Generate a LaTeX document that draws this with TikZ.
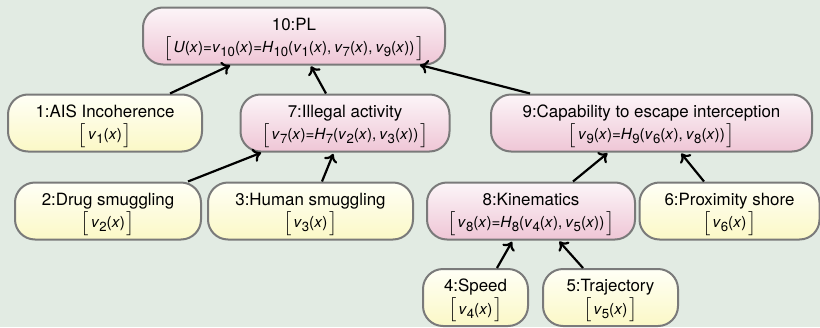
\documentclass[tikz,border=0pt]{standalone}
\usepackage{fontspec}
\setmainfont{TeX Gyre Heros}
\usetikzlibrary{arrows.meta}
\definecolor{bgcol}{HTML}{E2EBE3}
\definecolor{edgecol}{HTML}{7A7A7A}
\definecolor{leaftop}{HTML}{FFFFF6}
\definecolor{leafbot}{HTML}{FBF8C6}
\definecolor{aggtop}{HTML}{FCF5F8}
\definecolor{aggbot}{HTML}{EFC6D6}
% variable names and formulas
\newcommand{\sbs}[1]{\raisebox{-0.5ex}{\fontsize{6.6}{7}\selectfont #1}}
\newcommand{\vx}[1]{\textit{v}\sbs{#1}(\textit{x})}
\newcommand{\Hf}[1]{\textit{H}\sbs{#1}}
\newcommand{\fml}[1]{$\big[$\kern1pt#1\kern1pt$\big]$}
\newcommand{\cm}{,\kern1.5pt}
\tikzset{
  box/.style={draw=edgecol, line width=1pt, rounded corners=10pt,
    inner sep=0pt, minimum height=28.5pt},
  leaf/.style={box, top color=leaftop, bottom color=leafbot},
  agg/.style={box, top color=aggtop, bottom color=aggbot},
  title/.style={inner sep=0pt, anchor=base, font=\fontsize{8.45}{10}\selectfont},
  formula/.style={inner sep=0pt, anchor=base, font=\fontsize{7.6}{9}\selectfont},
  link/.style={line width=1.1pt, -{To[length=4pt,width=7pt,line width=1.1pt]}, shorten >=1pt}
}
% a node with a title line over a formula line
\newcommand{\vnode}[6]{%
  \node[#1, minimum width=#3] (#2) at (#4) {};
  \node[title] (#2t) at ([yshift=3pt]#2.center) {#5};
  \node[formula] (#2f) at ([yshift=-8.3pt]#2.center) {\fml{#6}};
}
\begin{document}
\begin{tikzpicture}[x=0.5pt, y=-0.5pt]
  \fill[bgcol] (0,0) rectangle (820,327);
  \useasboundingbox (0,0) rectangle (820,327);

  \vnode{agg}{n10}{151pt}{294,36}{10:PL}
    {\textit{U}(\textit{x})=\vx{10}=\Hf{10}(\vx{1}\cm\vx{7}\cm\vx{9})}

  \vnode{leaf}{n1}{97pt}{105,123}{1:AIS Incoherence}{\vx{1}}
  \vnode{agg}{n7}{104.5pt}{345,123}{7:Illegal activity}
    {\vx{7}=\Hf{7}(\vx{2}\cm\vx{3})}
  \vnode{agg}{n9}{160.5pt}{651.5,123}{9:Capability to escape interception}
    {\vx{9}=\Hf{9}(\vx{6}\cm\vx{8})}

  \vnode{leaf}{n2}{93pt}{108,211}{2:Drug smuggling}{\vx{2}}
  \vnode{leaf}{n3}{102.5pt}{310.5,211}{3:Human smuggling}{\vx{3}}
  \vnode{agg}{n8}{104pt}{531,211}{8:Kinematics}
    {\vx{8}=\Hf{8}(\vx{4}\cm\vx{5})}
  \vnode{leaf}{n6}{90pt}{729.5,211}{6:Proximity shore}{\vx{6}}

  \vnode{leaf}{n4}{52.5pt}{475.5,297.5}{4:Speed}{\vx{4}}
  \vnode{leaf}{n5}{67.5pt}{610.5,297.5}{5:Trajectory}{\vx{5}}

  \draw[link] (n1.north -| 170,0) -- (232,64.5);
  \draw[link] (n7.north -| 326,0) -- (310,64.5);
  \draw[link] (n9.north -| 530,0) -- (418,64.5);
  \draw[link] (n2.north -| 188,0) -- (263,152);
  \draw[link] (n3.north -| 322,0) -- (334,152);
  \draw[link] (n8.north -| 573,0) -- (609,152);
  \draw[link] (n6.north -| 704,0) -- (680,152);
  \draw[link] (n4.north -| 497,0) -- (513,240);
  \draw[link] (n5.north -| 583,0) -- (558,240);
\end{tikzpicture}
\end{document}
